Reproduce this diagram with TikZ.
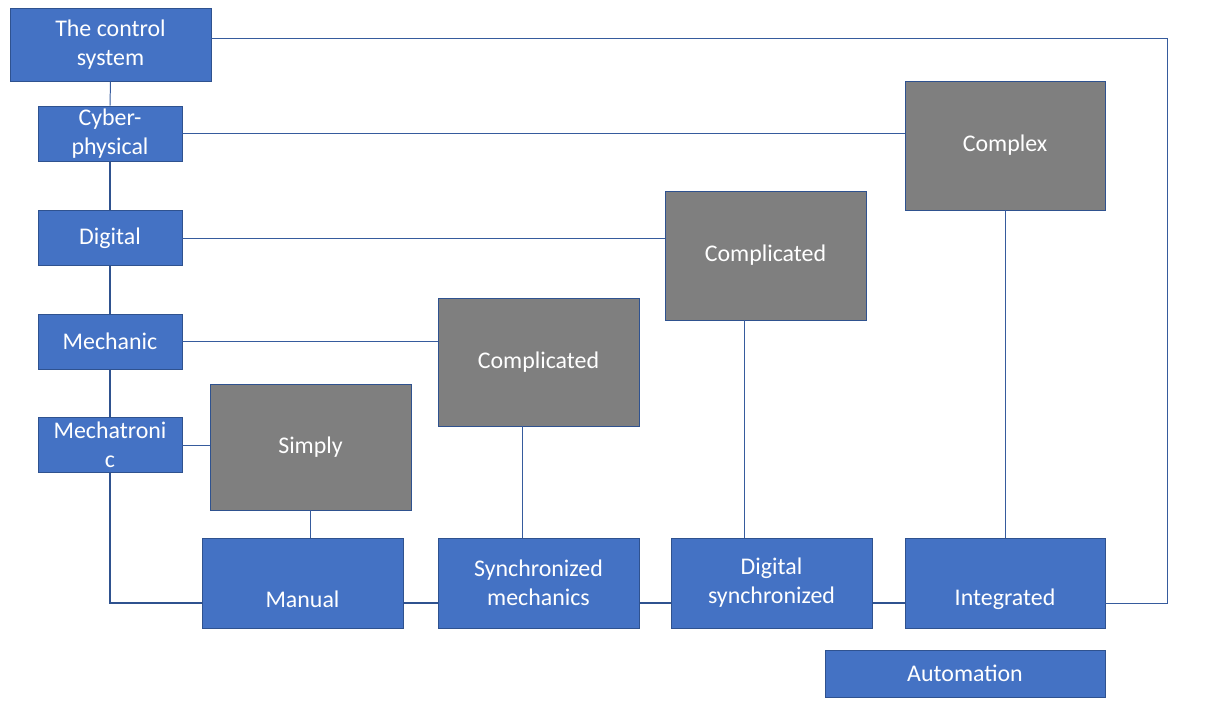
\documentclass[tikz,border=0pt]{standalone}
\usepackage{fontspec}
\setmainfont{Carlito}
\definecolor{boxblue}{HTML}{4472C4}
\definecolor{edgeblue}{HTML}{2F528F}
\definecolor{boxgray}{HTML}{7F7F7F}
\begin{document}
\begin{tikzpicture}[x=0.025cm,y=-0.025cm,
  blue box/.style={draw=edgeblue,fill=boxblue,text=white,align=center,inner sep=0pt,line width=0.6pt,font=\fontsize{17}{20.5}\selectfont},
  gray box/.style={blue box,fill=boxgray,minimum width=5.025cm,minimum height=3.2cm},
  thin link/.style={draw=boxblue!80!black,line width=0.7pt},
  thick link/.style={draw=edgeblue,line width=1.5pt}]
\useasboundingbox (0,0) rectangle (1210,700);

\node[blue box,minimum width=5.025cm,minimum height=1.825cm] (ctl) at (110.5,44.5) {The control\\system};
\node[blue box,minimum width=3.6cm,minimum height=1.375cm] (cp) at (110,133.5) {Cyber-\\physical};
\node[blue box,minimum width=3.6cm,minimum height=1.375cm] (dg) at (110,238) {Digital};
\node[blue box,minimum width=3.6cm,minimum height=1.375cm] (mc) at (110,341.5) {Mechanic};
\node[blue box,minimum width=3.6cm,minimum height=1.375cm] (mt) at (110,445) {Mechatroni\\c};

\node[gray box,minimum height=3.15cm] (sim) at (310.5,447) {Simply};
\node[gray box] (c1) at (538.5,362) {Complicated};
\node[gray box,minimum height=3.225cm] (c2) at (765.5,255.5) {Complicated};
\node[gray box,minimum width=5cm,minimum height=3.225cm] (cx) at (1005,145.5) {Complex};

\node[blue box,minimum width=5.025cm,minimum height=2.25cm] (man) at (302.5,583) {\strut\\Manual};
\node[blue box,minimum width=5.025cm,minimum height=2.25cm] (syn) at (538.5,583) {Synchronized\\mechanics};
\node[blue box,minimum width=5.025cm,minimum height=2.25cm] (ds) at (771.5,583) {Digital\\synchronized};
\node[blue box,minimum width=5cm,minimum height=2.25cm] (int) at (1005,583) {\strut\\Integrated};
\node[blue box,minimum width=7cm,minimum height=1.175cm] (aut) at (965,673.5) {Automation};

\coordinate (bus) at (0,603);
\coordinate (rt) at (1167,38);

% left column
\path[thin link] (ctl.south) -- (cp.north);
\path[thick link] (cp.south) -- (dg.north);
\path[thick link] (dg.south) -- (mc.north);
\path[thick link] (mc.south) -- (mt.north);
\path[thick link] (mt.south) |- (man.west |- bus);

% bottom row
\path[thick link] (man.east |- bus) -- (syn.west |- bus);
\path[thick link] (syn.east |- bus) -- (ds.west |- bus);
\path[thick link] (ds.east |- bus) -- (int.west |- bus);
\path[thin link] (int.east |- bus) -| (rt) -- (ctl.east |- rt);

% levels to gray boxes
\path[thin link] (cp.east) -- (cx.west |- cp.east);
\path[thin link] (dg.east) -- (c2.west |- dg.east);
\path[thin link] (mc.east) -- (c1.west |- mc.east);
\path[thin link] (mt.east) -- (sim.west |- mt.east);

% gray boxes to stages
\path[thin link] (sim.south) -- (man.north -| sim.south);
\path[thin link] (c1.south -| 522,0) -- (syn.north -| 522,0);
\path[thin link] (c2.south -| 744,0) -- (ds.north -| 744,0);
\path[thin link] (cx.south) -- (int.north);
\end{tikzpicture}
\end{document}
